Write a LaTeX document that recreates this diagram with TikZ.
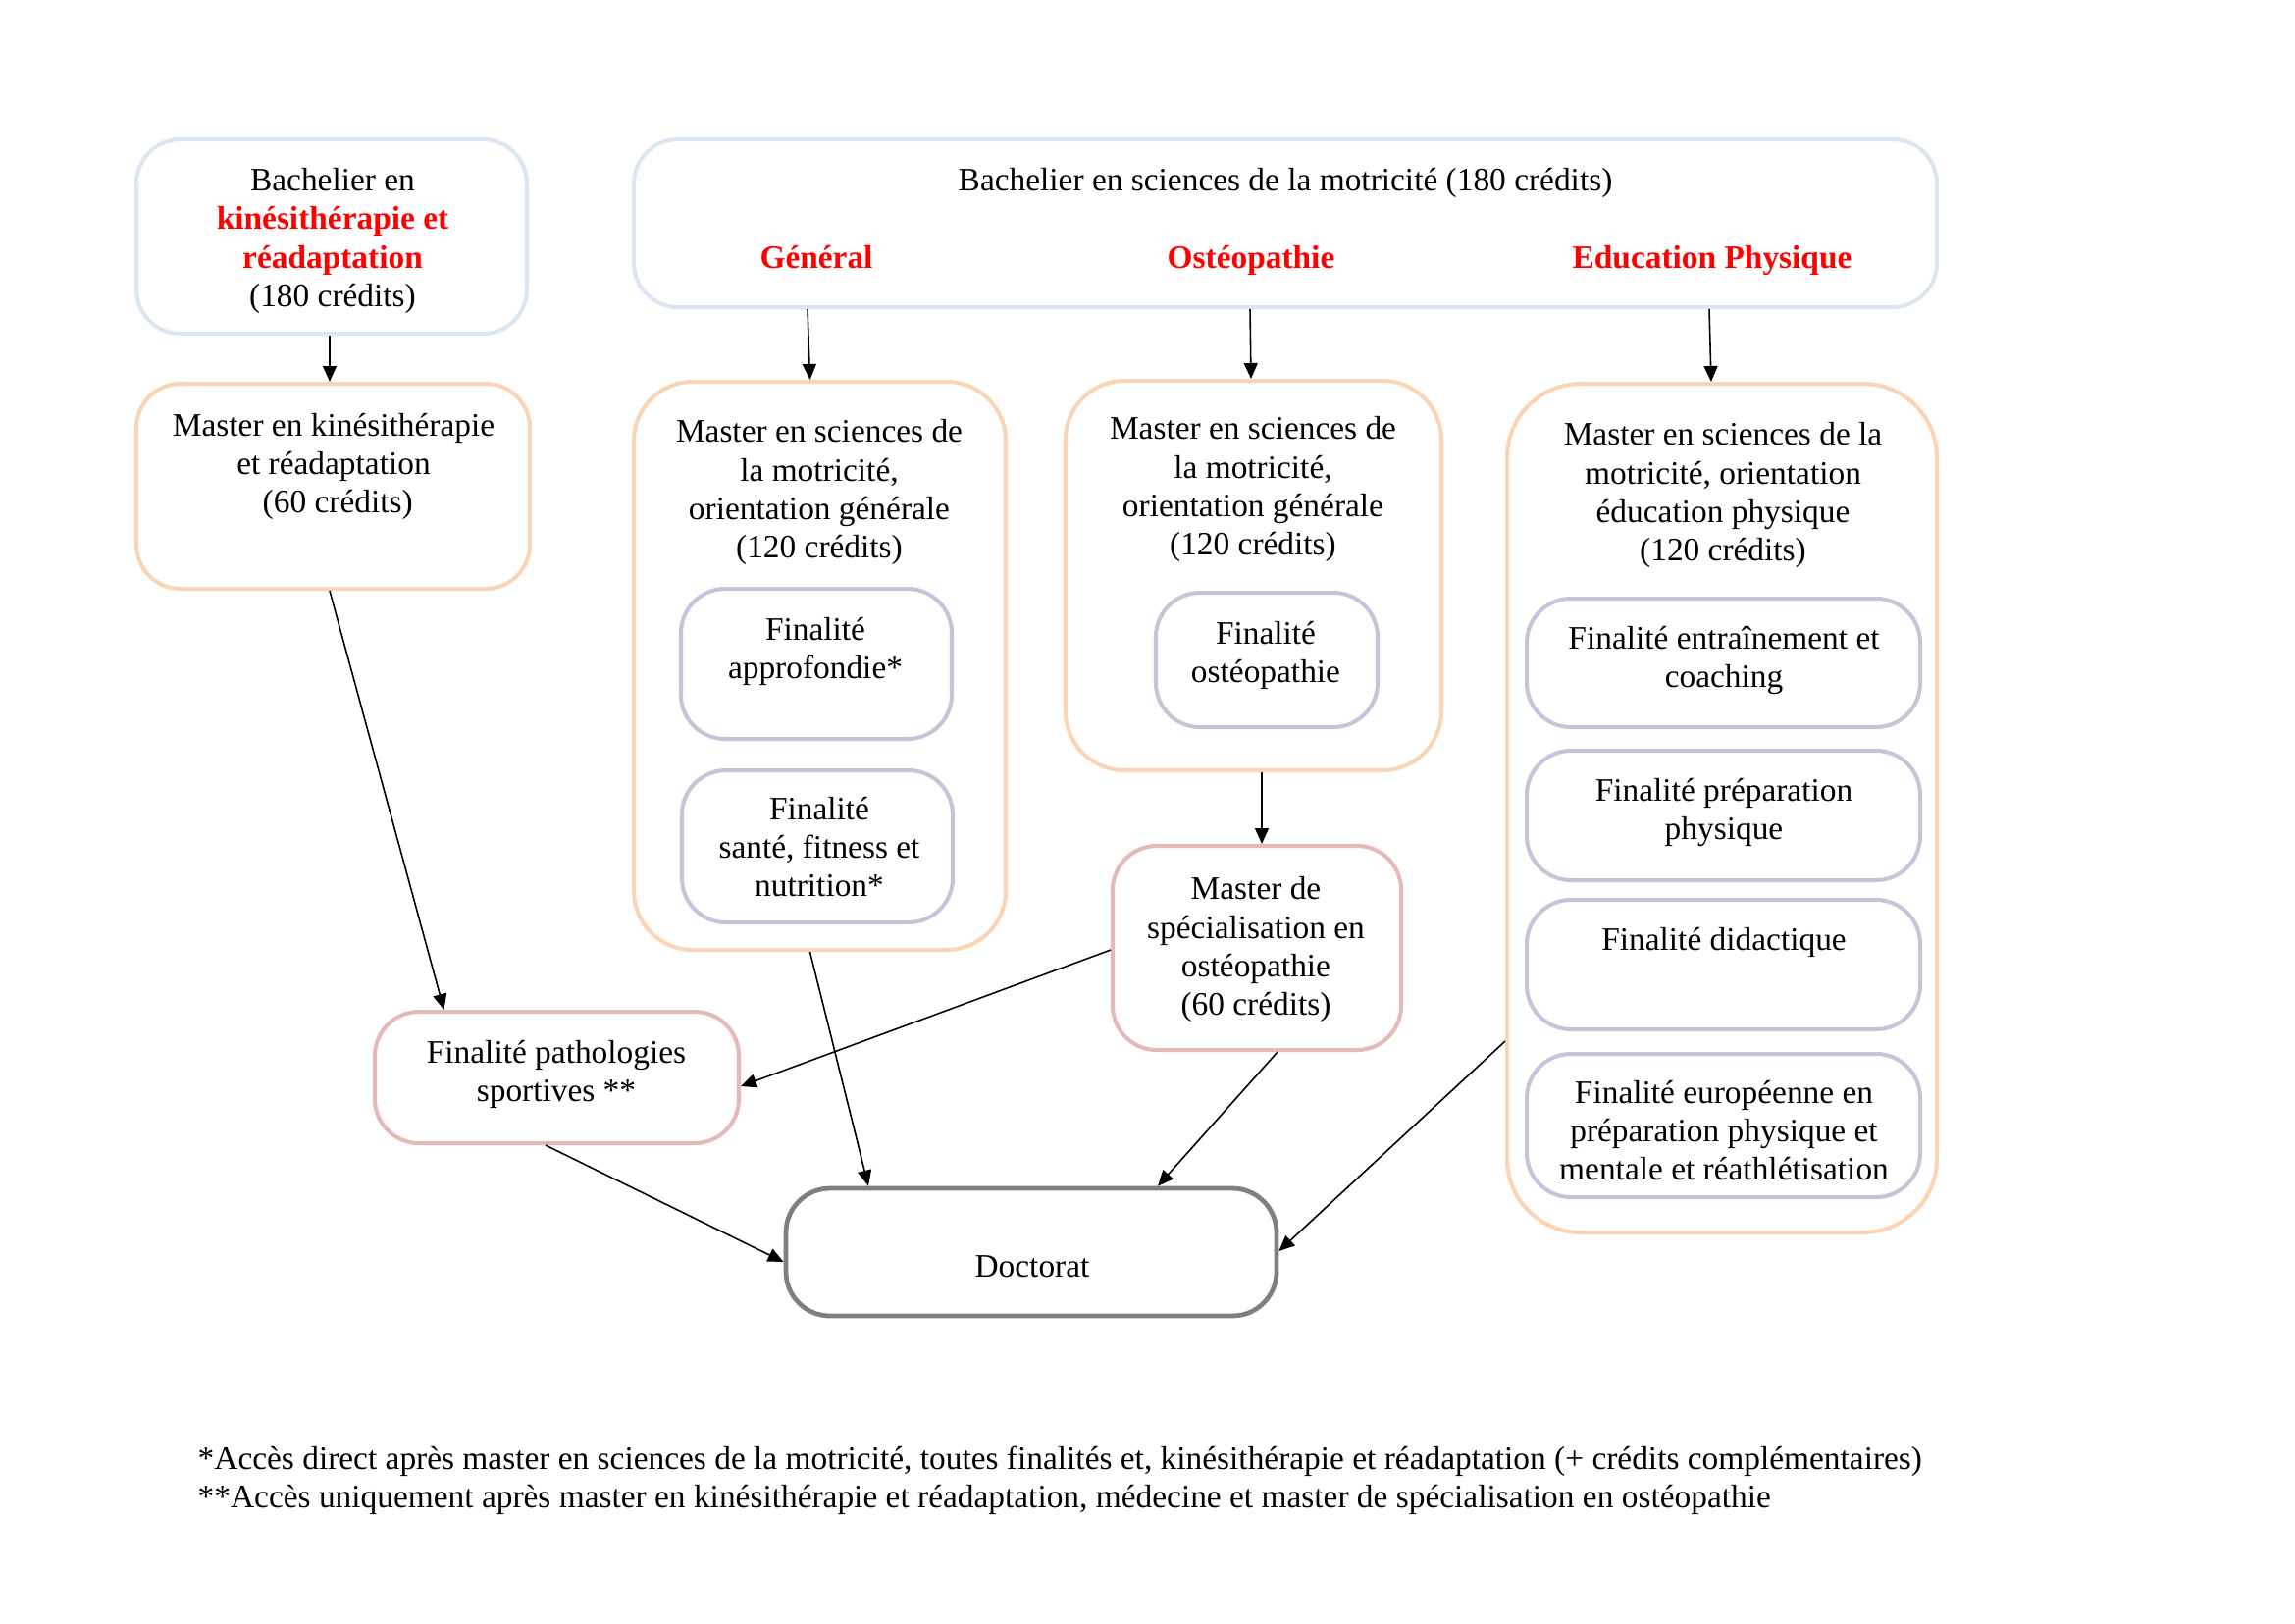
\documentclass[tikz,border=0pt]{standalone}
\usepackage{fontspec}
\setmainfont{Liberation Serif}
\usetikzlibrary{arrows.meta,calc}
\definecolor{cblue}{HTML}{DCE6F2}
\definecolor{corange}{HTML}{FBD4B4}
\definecolor{cpurple}{HTML}{CCC1DA}
\definecolor{cpink}{HTML}{E6B9B8}
\definecolor{cgray}{HTML}{7F7F7F}
\definecolor{cred}{HTML}{FF0000}
\begin{document}
\begin{tikzpicture}[x=0.1mm,y=-0.1mm,
  bx/.style={draw=#1, line width=1.15pt, rounded corners=4.5mm, inner sep=0pt, fill=white},
  txt/.style={anchor=base, align=center, inner sep=0pt, yshift=-0.2mm, font=\fontsize{9.5pt}{11.1pt}\selectfont},
  rd/.style={text=cred, font=\fontsize{9.5pt}{11.1pt}\selectfont\bfseries},
  arr/.style={draw=black, line width=0.45pt, -{Triangle[length=1.6mm,width=1.4mm]}}]
\useasboundingbox (0,0) rectangle (2339,1654);
\fill[white] (0,0) rectangle (2339,1654);
% boxes
\node[bx=cblue, minimum width=39.8mm, minimum height=19.8mm] (bk) at (338,241) {};
\node[bx=cblue, minimum width=132.8mm, minimum height=17.1mm] (bm) at (1310,227.5) {};
\node[bx=corange, minimum width=40.1mm, minimum height=20.9mm] (mk) at (339.5,495.5) {};
\node[bx=corange, rounded corners=6mm, minimum width=37.9mm, minimum height=57.9mm] (mg) at (835.5,678.5) {};
\node[bx=cpurple, minimum width=27.6mm, minimum height=15.3mm] (fa) at (832,676.5) {};
\node[bx=cpurple, minimum width=27.6mm, minimum height=15.5mm] (fs) at (833,862.5) {};
\node[bx=corange, rounded corners=6mm, minimum width=38.3mm, minimum height=39.7mm] (mo) at (1277.5,586.5) {};
\node[bx=cpurple, minimum width=22.6mm, minimum height=13.7mm] (fo) at (1291,672.5) {};
\node[bx=cpink, minimum width=29.4mm, minimum height=20.8mm] (ms) at (1281,966) {};
\node[bx=corange, rounded corners=7.5mm, minimum width=43.8mm, minimum height=86.5mm] (me) at (1755,823.5) {};
\node[bx=cpurple, minimum width=40.1mm, minimum height=13.1mm] (f1) at (1756.5,675.5) {};
\node[bx=cpurple, minimum width=40.1mm, minimum height=13.2mm] (f2) at (1756.5,831) {};
\node[bx=cpurple, minimum width=40.1mm, minimum height=13.2mm] (f3) at (1756.5,983) {};
\node[bx=cpurple, minimum width=40.1mm, minimum height=14.6mm] (f4) at (1756.5,1147) {};
\node[bx=cpink, minimum width=37.1mm, minimum height=13.4mm] (fp) at (567.5,1098) {};
\node[bx=cgray, line width=1.35pt, minimum width=50mm, minimum height=13mm] (dr) at (1051,1276) {};
% texts (base anchor = baseline of last line)
\node[txt] (bkt) at (339,310) {Bachelier en\\{\color{cred}\bfseries kinésithérapie et}\\{\color{cred}\bfseries réadaptation}\\(180 crédits)};
\node[txt] (bmt) at (1310,192) {Bachelier en sciences de la motricité (180 crédits)};
\node[txt, rd] (bm1) at (832,271) {Général};
\node[txt, rd] (bm2) at (1275,271) {Ostéopathie};
\node[txt, rd] (bm3) at (1745,271) {Education Physique};
\node[txt] (mkt) at (340,520) {Master en kinésithérapie\\et réadaptation\hspace*{2.4pt}\\\hspace*{2.4pt}(60 crédits)};
\node[txt] (mgt) at (835,566) {Master en sciences de\\la motricité,\\orientation générale\\(120 crédits)};
\node[txt] (fat) at (831,689) {Finalité\\approfondie*};
\node[txt] (fst) at (835,911) {Finalité\\santé, fitness et\\nutrition*};
\node[txt] (mot) at (1277,563) {Master en sciences de\\la motricité,\\orientation générale\\(120 crédits)};
\node[txt] (fot) at (1290,693) {Finalité\\ostéopathie};
\node[txt] (mst) at (1280,1032) {Master de\\spécialisation en\\ostéopathie\\(60 crédits)};
\node[txt] (met) at (1756,569) {Master en sciences de la\\motricité, orientation\\éducation physique\\(120 crédits)};
\node[txt] (f1t) at (1757,698) {Finalité entraînement et\\coaching};
\node[txt] (f2t) at (1757,853) {Finalité préparation\\physique};
\node[txt] (f3t) at (1757,966) {Finalité didactique};
\node[txt] (f4t) at (1757,1200) {Finalité européenne en\\préparation physique et\\mentale et réathlétisation};
\node[txt] (fpt) at (567,1120) {Finalité pathologies\\sportives **};
\node[txt] (drt) at (1052,1299) {Doctorat};
\node[txt, anchor=base west, align=left] (fn) at (201,1534) {*Accès direct après master en sciences de la motricité, toutes finalités et, kinésithérapie et réadaptation (+ crédits complémentaires)\\**Accès uniquement après master en kinésithérapie et réadaptation, médecine et master de spécialisation en ostéopathie};
% arrows
\draw[arr] ([xshift=-0.2mm]bk.south) -- ([xshift=-0.35mm]mk.north);
\draw[arr] ([xshift=-0.35mm]mk.south) -- ([xshift=-11.5mm]fp.north);
\draw[arr] ([xshift=-48.7mm]bm.south) -- ([xshift=-1.0mm]mg.north);
\draw[arr] ([xshift=-3.6mm]bm.south) -- ([xshift=-0.25mm]mo.north);
\draw[arr] ([xshift=43.2mm]bm.south) -- ([xshift=-1.1mm]me.north);
\draw[arr] ([xshift=-1.0mm]mg.south) -- ([xshift=-16.6mm]dr.north);
\draw[arr] ([xshift=0.85mm]mo.south) -- ([xshift=0.5mm]ms.north);
\draw[arr] ([yshift=-0.2mm]ms.west) -- ([yshift=-0.9mm]fp.east);
\draw[arr] ([xshift=2.1mm]ms.south) -- ([xshift=12.9mm]dr.north);
\draw[arr] ([xshift=-1.15mm]fp.south) -- ([yshift=-1.0mm]dr.west);
\draw[arr] ([yshift=-23.75mm]me.west) -- ([yshift=0.1mm]dr.east);
\end{tikzpicture}
\end{document}
